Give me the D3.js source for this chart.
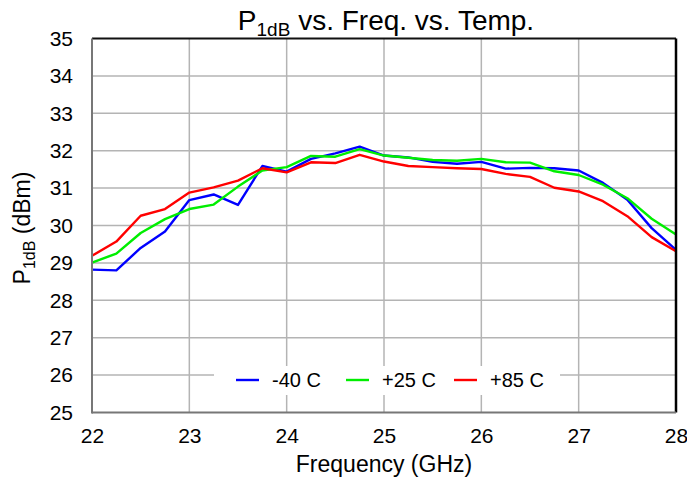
<!DOCTYPE html>
<html><head><meta charset="utf-8">
<script src="https://cdn.jsdelivr.net/npm/d3@7"></script>
<style>body{margin:0;background:#fff;} svg{display:block;font-family:"Liberation Sans",Arial,sans-serif;}</style>
</head><body>
<svg id="c" width="687" height="479"></svg>
<script>
const freqs = [22,22.25,22.5,22.75,23,23.25,23.5,23.75,24,24.25,24.5,24.75,25,25.25,25.5,25.75,26,26.25,26.5,26.75,27,27.25,27.5,27.75,28];
const seriesNames = ["-40 C","+25 C","+85 C"];
const seriesColors = ["#0000ff","#00ee00","#ff0000"];
const m40 = [28.82,28.80,29.40,29.84,30.68,30.83,30.55,31.59,31.44,31.78,31.93,32.11,31.87,31.82,31.70,31.65,31.70,31.52,31.54,31.53,31.47,31.14,30.69,29.93,29.35];
const p25 = [29.01,29.25,29.80,30.17,30.44,30.56,31.04,31.47,31.56,31.86,31.84,32.04,31.87,31.81,31.75,31.73,31.78,31.69,31.68,31.45,31.35,31.09,30.73,30.18,29.76];
const p85 = [29.19,29.57,30.26,30.44,30.88,31.02,31.20,31.53,31.42,31.69,31.67,31.89,31.71,31.59,31.56,31.53,31.51,31.38,31.30,31.01,30.91,30.65,30.25,29.69,29.31];
const xTicks = [22,23,24,25,26,27,28];
const yTicks = [25,26,27,28,29,30,31,32,33,34,35];
const series = [m40,p25,p85];

const svg = d3.select("#c");
const L=92, R=676, T=38.5, B=412.5;
const x = d3.scaleLinear().domain([22,28]).range([L,R]);
const y = d3.scaleLinear().domain([25,35]).range([B,T]);

// grid
svg.append("g").selectAll("line").data(xTicks.slice(1,-1)).join("line")
  .attr("x1",d=>x(d)).attr("x2",d=>x(d)).attr("y1",T).attr("y2",B)
  .attr("stroke","#b4b4b4").attr("stroke-width",1.5);
svg.append("g").selectAll("line").data(yTicks.slice(1,-1)).join("line")
  .attr("x1",L).attr("x2",R).attr("y1",d=>y(d)).attr("y2",d=>y(d))
  .attr("stroke","#b4b4b4").attr("stroke-width",1.5);

// legend box (white, covering grid)
const lg = svg.append("g");
lg.append("rect").attr("x",214).attr("y",366).attr("width",346).attr("height",29).attr("fill","#fff");

// lines
const line = d3.line().x((d,i)=>x(freqs[i])).y(d=>y(d));
series.forEach((s,k)=>{
  svg.append("path").datum(s).attr("d",line).attr("fill","none")
    .attr("stroke",seriesColors[k]).attr("stroke-width",2.4).attr("stroke-linejoin","round");
});

// frame
svg.append("line").attr("x1",L).attr("x2",R).attr("y1",T).attr("y2",T).attr("stroke","#111").attr("stroke-width",2);
svg.append("line").attr("x1",R).attr("x2",R).attr("y1",T).attr("y2",B).attr("stroke","#000").attr("stroke-width",2.5);
svg.append("line").attr("x1",L).attr("x2",L).attr("y1",T).attr("y2",B+1).attr("stroke","#777").attr("stroke-width",2);
svg.append("line").attr("x1",L).attr("x2",R).attr("y1",B).attr("y2",B).attr("stroke","#777").attr("stroke-width",2);

// axes labels via d3 axes
const ax = svg.append("g").attr("transform",`translate(0,${B})`)
  .call(d3.axisBottom(x).tickValues(xTicks).tickSize(0).tickPadding(16).tickFormat(d3.format("d")));
ax.select(".domain").remove();
ax.selectAll("text").attr("font-size",21).attr("fill","#000").attr("font-family","Liberation Sans, Arial, sans-serif");
const ay = svg.append("g").attr("transform",`translate(${L},0)`)
  .call(d3.axisLeft(y).tickValues(yTicks).tickSize(0).tickPadding(19).tickFormat(d3.format("d")));
ay.select(".domain").remove();
ay.selectAll("text").attr("font-size",21).attr("fill","#000").attr("font-family","Liberation Sans, Arial, sans-serif");

// legend items
const legX = [236,346,454];
seriesNames.forEach((n,k)=>{
  lg.append("line").attr("x1",legX[k]).attr("x2",legX[k]+23).attr("y1",380).attr("y2",380)
    .attr("stroke",seriesColors[k]).attr("stroke-width",2.4);
  lg.append("text").attr("x",legX[k]+36).attr("y",387).attr("font-size",20).text(n);
});

// title
const t = svg.append("text").attr("x",386).attr("y",30).attr("text-anchor","middle").attr("font-size",28);
t.append("tspan").text("P");
t.append("tspan").attr("font-size",19).attr("dy",6).text("1dB");
t.append("tspan").attr("dy",-6).text(" vs. Freq. vs. Temp.");

// x title
svg.append("text").attr("x",384).attr("y",472).attr("text-anchor","middle").attr("font-size",23).text("Frequency (GHz)");

// y title
const yt = svg.append("text").attr("transform","translate(30,228) rotate(-90)").attr("text-anchor","middle").attr("font-size",23);
yt.append("tspan").text("P");
yt.append("tspan").attr("font-size",16).attr("dy",5).text("1dB");
yt.append("tspan").attr("dy",-5).text(" (dBm)");
</script>
</body></html>
